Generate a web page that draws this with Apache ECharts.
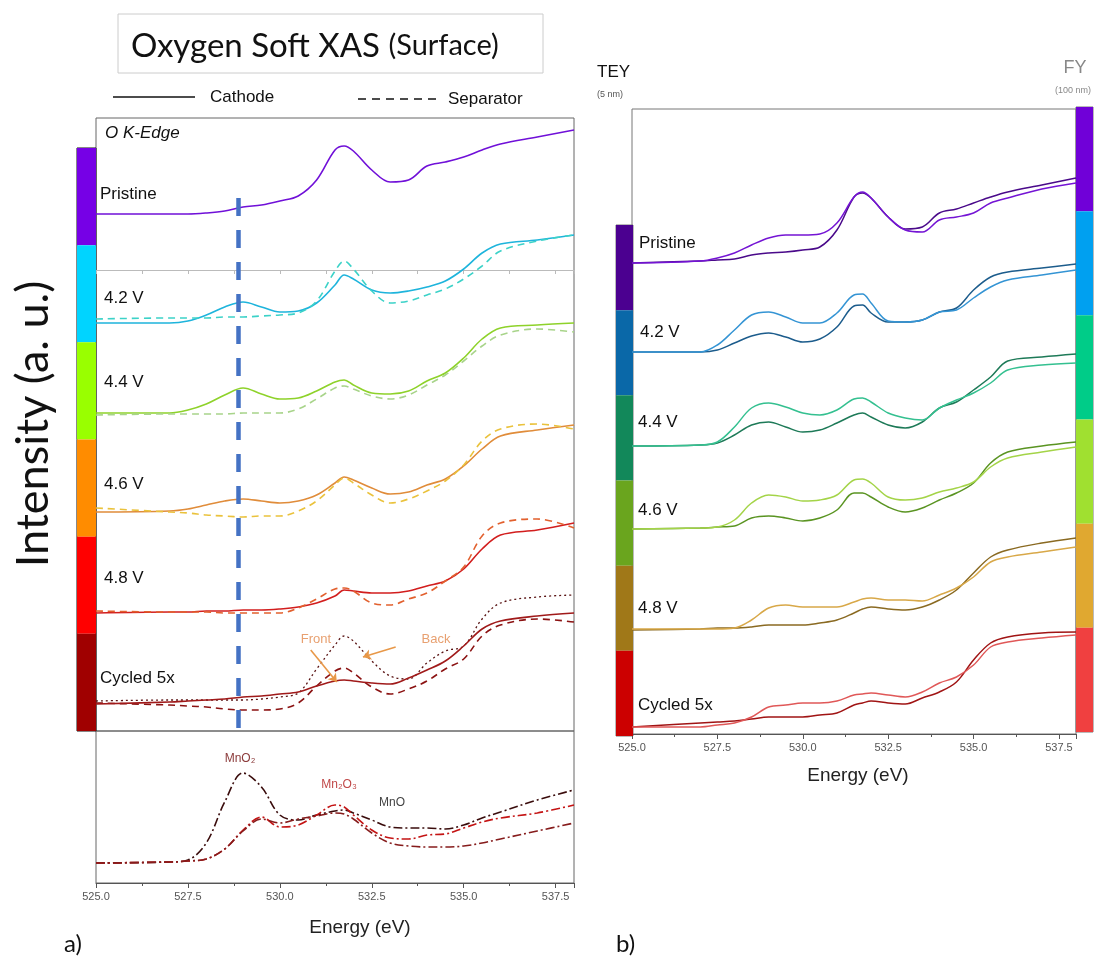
<!DOCTYPE html>
<html>
<head>
<meta charset="utf-8">
<script src="https://cdn.jsdelivr.net/npm/echarts@6/dist/echarts.min.js"></script>
<style>html,body{margin:0;padding:0;background:#fff}#c{width:1102px;height:960px}</style>
</head>
<body>
<div id="c"></div>
<script>
// shared energy grid (eV)
const energy = [525, 527, 527.5, 528, 528.5, 529, 529.5, 530, 530.5, 531, 531.5, 531.75, 532, 532.5, 533, 533.5, 534, 534.5, 535, 535.5, 536, 537, 538];

// panel a, stacked intensities (a.u., offsets included)
const aPristine = [517, 517, 517, 518, 520, 524, 526, 530, 535, 551, 581, 585, 580, 561, 549, 551, 565, 569, 574, 581, 587, 594, 601];
const a42Cath = [408, 408, 410, 416, 424, 429, 424, 419, 420, 428, 446, 456, 452, 441, 438, 440, 444, 450, 462, 478, 487, 491, 496];
const a42Sep = [412, 413, 413, 413, 414, 414, 415, 416, 418, 430, 460, 470, 462, 440, 428, 430, 436, 442, 452, 465, 480, 490, 496];
const a44Cath = [318, 318, 321, 327, 336, 343, 337, 332, 333, 340, 349, 351, 346, 338, 337, 340, 350, 358, 373, 392, 403, 406, 408];
const a44Sep = [316, 317, 317, 317, 317, 318, 318, 318, 322, 332, 343, 345, 342, 335, 332, 336, 346, 356, 370, 385, 396, 402, 399];
const a46Cath = [219, 220, 222, 226, 230, 232, 230, 228, 230, 236, 248, 254, 251, 243, 237, 239, 246, 252, 265, 282, 295, 301, 306];
const a46Sep = [223, 219, 218, 216, 215, 214, 215, 215, 220, 230, 246, 253, 248, 236, 228, 232, 240, 250, 266, 290, 302, 307, 302];
const a48Cath = [118, 119, 119, 120, 120, 121, 121, 122, 124, 128, 135, 141, 140, 138, 138, 140, 145, 150, 162, 182, 196, 201, 208];
const a48Sep = [120, 119, 119, 119, 118, 118, 118, 118, 123, 132, 142, 143, 140, 128, 126, 132, 138, 150, 164, 195, 208, 212, 203];
const aCycCath = [27, 29, 30, 31, 32, 34, 35, 37, 39, 45, 50, 51, 50, 48, 47, 53, 61, 70, 85, 102, 110, 115, 118];
const aCycSep = [28, 26, 25, 24, 22, 21, 21, 22, 28, 45, 60, 63, 58, 44, 37, 42, 50, 62, 72, 95, 106, 112, 109];
const aCycBack = [30, 31, 31, 31, 31, 31, 32, 34, 38, 62, 86, 95, 90, 70, 55, 52, 68, 80, 85, 112, 128, 134, 136];

// panel a, Mn oxide references
const refMnO2 = [20, 21, 23, 40, 81, 110, 96, 68, 63, 68, 72, 73, 70, 63, 56, 55, 55, 54, 58, 65, 71, 83, 93];
const refMn2O3 = [20, 21, 22, 24, 34, 53, 66, 56, 58, 68, 78, 76, 68, 53, 45, 44, 48, 49, 55, 61, 65, 70, 78];
const refMnO = [20, 21, 22, 24, 34, 52, 64, 60, 64, 67, 70, 69, 64, 50, 40, 37, 36, 36, 37, 40, 44, 52, 60];

// panel b, TEY / FY
const bPristineTEY = [471, 473, 474, 475, 479, 481, 482, 484, 487, 504, 537, 541, 536, 517, 505, 507, 521, 525, 531, 537, 542, 549, 556];
const bPristineFY = [471, 473, 476, 481, 489, 496, 499, 499, 500, 511, 537, 542, 536, 517, 504, 502, 514, 517, 521, 531, 536, 545, 551];
const b42TEY = [382, 382, 384, 391, 398, 401, 397, 392, 395, 407, 428, 429, 421, 412, 412, 414, 422, 426, 444, 457, 462, 466, 470];
const b42FY = [382, 382, 389, 404, 419, 422, 417, 411, 411, 421, 439, 440, 431, 413, 412, 414, 422, 424, 436, 447, 454, 459, 464];
const b44TEY = [288, 289, 291, 299, 309, 312, 307, 302, 304, 311, 319, 321, 317, 309, 306, 312, 326, 332, 344, 357, 373, 377, 380];
const b44FY = [288, 289, 292, 307, 326, 331, 327, 321, 319, 324, 335, 336, 332, 321, 316, 314, 326, 334, 341, 351, 364, 369, 371];
const b46TEY = [205, 206, 207, 208, 216, 218, 216, 213, 216, 224, 241, 241, 237, 227, 222, 226, 234, 241, 251, 271, 282, 288, 292];
const b46FY = [205, 206, 207, 214, 231, 239, 237, 233, 234, 239, 254, 255, 251, 237, 234, 236, 242, 246, 252, 267, 276, 282, 287];
const b48TEY = [104, 105, 106, 106, 107, 109, 109, 109, 111, 114, 121, 125, 127, 125, 124, 127, 134, 144, 161, 177, 184, 191, 196];
const b48FY = [105, 105, 105, 106, 114, 126, 129, 127, 127, 127, 132, 135, 136, 134, 134, 133, 139, 146, 157, 172, 177, 182, 187];
const bCycTEY = [7, 11, 12, 13, 15, 17, 17, 17, 19, 21, 29, 31, 33, 31, 30, 36, 42, 52, 74, 91, 97, 101, 102];
const bCycFY = [7, 7, 9, 11, 17, 27, 29, 31, 31, 33, 39, 40, 41, 39, 37, 42, 51, 57, 69, 87, 92, 96, 99];

const states = ['Pristine', '4.2 V', '4.4 V', '4.6 V', '4.8 V', 'Cycled 5x'];
const barA = ['#7600E6', '#00D4FF', '#99FF00', '#FF8C00', '#FF0000', '#A00000'];
const barTEY = ['#4B0090', '#0A68A8', '#12885A', '#6AA51E', '#A07818', '#CC0000'];
const barFY = ['#7000D8', '#00A0F0', '#00CC88', '#A0E030', '#E0A830', '#F04040'];

const mnLine = 528.86;
const arrows = [[[530.84, 81], [531.55, 49]], [[533.15, 84], [532.26, 74]]];

const pts = arr => energy.map((e, i) => [e, arr[i]]);
const sans = 'Liberation Sans';
const dash = [7, 5];
const dashDot = [9, 3, 2, 3];

function line(name, arr, color, grid, type, width) {
  return {
    name, type: 'line', xAxisIndex: grid, yAxisIndex: grid, data: pts(arr),
    smooth: 0.35, showSymbol: false, silent: true,
    lineStyle: { color, width: width || 1.6, type: type || 'solid' }
  };
}

function colorbar(idx, colors) {
  return {
    type: 'bar', xAxisIndex: idx, yAxisIndex: idx, data: colors.map(() => 1),
    barWidth: '100%', barCategoryGap: 0, silent: true,
    itemStyle: { color: p => colors[p.dataIndex] }
  };
}

const chart = echarts.init(document.getElementById('c'), null, { renderer: 'canvas' });

const hiddenX = { type: 'value', min: 525, max: 538, show: false };
const energyX = (grid) => ({
  type: 'value', gridIndex: grid, min: 525, max: 538, interval: 2.5,
  axisLine: { lineStyle: { color: '#555' } },
  axisTick: { length: 5, lineStyle: { color: '#555' } },
  minorTick: { show: true, splitNumber: 2, length: 3, lineStyle: { color: '#555' } },
  splitLine: { show: false },
  axisLabel: { color: '#555', fontSize: 11, fontFamily: sans, showMaxLabel: false, formatter: v => v.toFixed(1) }
});

const option = {
  animation: false,
  backgroundColor: '#fff',
  grid: [
    { left: 96, top: 118, width: 478, height: 613, show: true, borderColor: '#666', borderWidth: 1 },
    { left: 96, top: 118, width: 478, height: 152 },
    { left: 96, top: 731, width: 478, height: 152, show: true, borderColor: '#666', borderWidth: 1 },
    { left: 77, top: 148, width: 19, height: 583, show: true, borderColor: '#111', borderWidth: 1 },
    { left: 632, top: 109, width: 444, height: 625, show: true, borderColor: '#777', borderWidth: 1 },
    { left: 616, top: 225, width: 17, height: 511, show: true, borderColor: '#777', borderWidth: 1 },
    { left: 1076, top: 107, width: 17, height: 625, show: true, borderColor: '#777', borderWidth: 1 }
  ],
  xAxis: [
    Object.assign({ gridIndex: 0 }, hiddenX),
    {
      type: 'value', gridIndex: 1, min: 525, max: 538, interval: 1.25,
      axisLine: { lineStyle: { color: '#bbb' } },
      axisTick: { length: 4, lineStyle: { color: '#bbb' } },
      axisLabel: { show: false }, splitLine: { show: false }
    },
    energyX(2),
    { type: 'value', gridIndex: 3, min: 0, max: 1, show: false },
    energyX(4),
    { type: 'value', gridIndex: 5, min: 0, max: 1, show: false },
    { type: 'value', gridIndex: 6, min: 0, max: 1, show: false }
  ],
  yAxis: [
    { type: 'value', gridIndex: 0, min: 0, max: 613, show: false },
    { type: 'value', gridIndex: 1, min: 0, max: 152, show: false },
    { type: 'value', gridIndex: 2, min: 0, max: 152, show: false },
    { type: 'category', gridIndex: 3, data: states, inverse: true, show: false },
    { type: 'value', gridIndex: 4, min: 0, max: 625, show: false },
    { type: 'category', gridIndex: 5, data: states, inverse: true, show: false },
    { type: 'category', gridIndex: 6, data: states, inverse: true, show: false }
  ],
  series: [
    Object.assign(line('Pristine', aPristine, '#7010D8', 0), {
      markLine: {
        silent: true, symbol: 'none', label: { show: false },
        lineStyle: { color: '#4472C4', width: 4.5, type: [18, 14] },
        data: [[{ coord: [mnLine, 533] }, { coord: [mnLine, 3] }]]
      }
    }),
    line('4.2 V cathode', a42Cath, '#1EB4DC', 0),
    line('4.2 V separator', a42Sep, '#3CD2C8', 0, dash),
    line('4.4 V cathode', a44Cath, '#8ED22A', 0),
    line('4.4 V separator', a44Sep, '#A8D48A', 0, dash),
    line('4.6 V cathode', a46Cath, '#E08C3A', 0),
    line('4.6 V separator', a46Sep, '#EAC23C', 0, dash),
    line('4.8 V cathode', a48Cath, '#D21E1E', 0),
    line('4.8 V separator', a48Sep, '#E2602E', 0, dash),
    line('Cycled back', aCycBack, '#5A1414', 0, [2, 3], 1.3),
    line('Cycled separator', aCycSep, '#8B1212', 0, dash),
    Object.assign(line('Cycled cathode', aCycCath, '#A01A1A', 0), {
      markLine: {
        silent: true, symbol: ['none', 'arrow'], symbolSize: 8, label: { show: false },
        lineStyle: { color: '#E89848', width: 1.6, type: 'solid' },
        data: arrows.map(a => [{ coord: a[0] }, { coord: a[1] }])
      }
    }),
    line('MnO2', refMnO2, '#3A0C0C', 2, dashDot),
    line('Mn2O3', refMn2O3, '#C41414', 2, dashDot),
    line('MnO', refMnO, '#861C1C', 2, dashDot),
    colorbar(3, barA),
    line('Pristine TEY', bPristineTEY, '#4A0A8A', 4, 'solid', 1.5),
    line('Pristine FY', bPristineFY, '#7414D4', 4, 'solid', 1.5),
    line('4.2 V TEY', b42TEY, '#1C5C8C', 4, 'solid', 1.5),
    line('4.2 V FY', b42FY, '#3494D4', 4, 'solid', 1.5),
    line('4.4 V TEY', b44TEY, '#1E7A58', 4, 'solid', 1.5),
    line('4.4 V FY', b44FY, '#34C090', 4, 'solid', 1.5),
    line('4.6 V TEY', b46TEY, '#5A9422', 4, 'solid', 1.5),
    line('4.6 V FY', b46FY, '#A4D448', 4, 'solid', 1.5),
    line('4.8 V TEY', b48TEY, '#8A6A22', 4, 'solid', 1.5),
    line('4.8 V FY', b48FY, '#D8A848', 4, 'solid', 1.5),
    line('Cycled TEY', bCycTEY, '#A01414', 4, 'solid', 1.5),
    line('Cycled FY', bCycFY, '#E05858', 4, 'solid', 1.5),
    colorbar(5, barTEY),
    colorbar(6, barFY)
  ],
  graphic: [
    { type: 'rect', shape: { x: 118, y: 14, width: 425, height: 59 }, style: { fill: '#fff', stroke: '#ccc', lineWidth: 1 } },
    {
      type: 'text', x: 131, y: 46,
      style: {
        text: '{a|Oxygen Soft XAS }{b|(Surface)}', textVerticalAlign: 'middle',
        rich: { a: { fontSize: 33, fontFamily: 'Lato', fill: '#111' }, b: { fontSize: 29, fontFamily: 'Lato', fill: '#111' } }
      }
    },
    { type: 'line', shape: { x1: 113, y1: 97, x2: 195, y2: 97 }, style: { stroke: '#111', lineWidth: 1.5 } },
    { type: 'text', x: 210, y: 97, style: { text: 'Cathode', fontSize: 17, fontFamily: sans, fill: '#111', textVerticalAlign: 'middle' } },
    { type: 'line', shape: { x1: 358, y1: 99, x2: 441, y2: 99 }, style: { stroke: '#111', lineWidth: 1.5, lineDash: [8, 6] } },
    { type: 'text', x: 448, y: 99, style: { text: 'Separator', fontSize: 17, fontFamily: sans, fill: '#111', textVerticalAlign: 'middle' } },
    { type: 'text', x: 105, y: 133, style: { text: 'O K-Edge', fontSize: 17, fontStyle: 'italic', fontFamily: sans, fill: '#111', textVerticalAlign: 'middle' } },
    { type: 'text', x: 33, y: 424, rotation: Math.PI / 2, style: { text: 'Intensity (a. u.)', fontSize: 45, fontFamily: 'Lato', fill: '#111', textAlign: 'center', textVerticalAlign: 'middle' } },
    { type: 'text', x: 100, y: 194, style: { text: states[0], fontSize: 17, fontFamily: sans, fill: '#111', textVerticalAlign: 'middle' } },
    { type: 'text', x: 104, y: 298, style: { text: states[1], fontSize: 17, fontFamily: sans, fill: '#111', textVerticalAlign: 'middle' } },
    { type: 'text', x: 104, y: 382, style: { text: states[2], fontSize: 17, fontFamily: sans, fill: '#111', textVerticalAlign: 'middle' } },
    { type: 'text', x: 104, y: 484, style: { text: states[3], fontSize: 17, fontFamily: sans, fill: '#111', textVerticalAlign: 'middle' } },
    { type: 'text', x: 104, y: 578, style: { text: states[4], fontSize: 17, fontFamily: sans, fill: '#111', textVerticalAlign: 'middle' } },
    { type: 'text', x: 100, y: 678, style: { text: states[5], fontSize: 17, fontFamily: sans, fill: '#111', textVerticalAlign: 'middle' } },
    { type: 'text', x: 316, y: 639, style: { text: 'Front', fontSize: 13, fontFamily: sans, fill: '#E8A070', textAlign: 'center', textVerticalAlign: 'middle' } },
    { type: 'text', x: 436, y: 639, style: { text: 'Back', fontSize: 13, fontFamily: sans, fill: '#E8A070', textAlign: 'center', textVerticalAlign: 'middle' } },
    { type: 'text', x: 240, y: 759, style: { text: 'MnO₂', fontSize: 12, fontFamily: sans, fill: '#8B3A3A', textAlign: 'center', textVerticalAlign: 'middle' } },
    { type: 'text', x: 339, y: 785, style: { text: 'Mn₂O₃', fontSize: 12, fontFamily: sans, fill: '#C04848', textAlign: 'center', textVerticalAlign: 'middle' } },
    { type: 'text', x: 392, y: 803, style: { text: 'MnO', fontSize: 12, fontFamily: sans, fill: '#444', textAlign: 'center', textVerticalAlign: 'middle' } },
    { type: 'text', x: 360, y: 928, style: { text: 'Energy (eV)', fontSize: 19, fontFamily: sans, fill: '#222', textAlign: 'center', textVerticalAlign: 'middle' } },
    { type: 'text', x: 64, y: 944, style: { text: 'a)', fontSize: 24, fontFamily: 'Lato', fill: '#111', textVerticalAlign: 'middle' } },
    { type: 'text', x: 616, y: 944, style: { text: 'b)', fontSize: 24, fontFamily: 'Lato', fill: '#111', textVerticalAlign: 'middle' } },
    { type: 'text', x: 597, y: 72, style: { text: 'TEY', fontSize: 17, fontFamily: sans, fill: '#111', textVerticalAlign: 'middle' } },
    { type: 'text', x: 597, y: 95, style: { text: '(5 nm)', fontSize: 9, fontFamily: sans, fill: '#555', textVerticalAlign: 'middle' } },
    { type: 'text', x: 1075, y: 68, style: { text: 'FY', fontSize: 18, fontFamily: sans, fill: '#888', textAlign: 'center', textVerticalAlign: 'middle' } },
    { type: 'text', x: 1073, y: 91, style: { text: '(100 nm)', fontSize: 9, fontFamily: sans, fill: '#888', textAlign: 'center', textVerticalAlign: 'middle' } },
    { type: 'text', x: 639, y: 243, style: { text: states[0], fontSize: 17, fontFamily: sans, fill: '#111', textVerticalAlign: 'middle' } },
    { type: 'text', x: 640, y: 332, style: { text: states[1], fontSize: 17, fontFamily: sans, fill: '#111', textVerticalAlign: 'middle' } },
    { type: 'text', x: 638, y: 422, style: { text: states[2], fontSize: 17, fontFamily: sans, fill: '#111', textVerticalAlign: 'middle' } },
    { type: 'text', x: 638, y: 510, style: { text: states[3], fontSize: 17, fontFamily: sans, fill: '#111', textVerticalAlign: 'middle' } },
    { type: 'text', x: 638, y: 608, style: { text: states[4], fontSize: 17, fontFamily: sans, fill: '#111', textVerticalAlign: 'middle' } },
    { type: 'text', x: 638, y: 705, style: { text: states[5], fontSize: 17, fontFamily: sans, fill: '#111', textVerticalAlign: 'middle' } },
    { type: 'text', x: 858, y: 776, style: { text: 'Energy (eV)', fontSize: 19, fontFamily: sans, fill: '#222', textAlign: 'center', textVerticalAlign: 'middle' } }
  ]
};

chart.setOption(option);
</script>
</body>
</html>
